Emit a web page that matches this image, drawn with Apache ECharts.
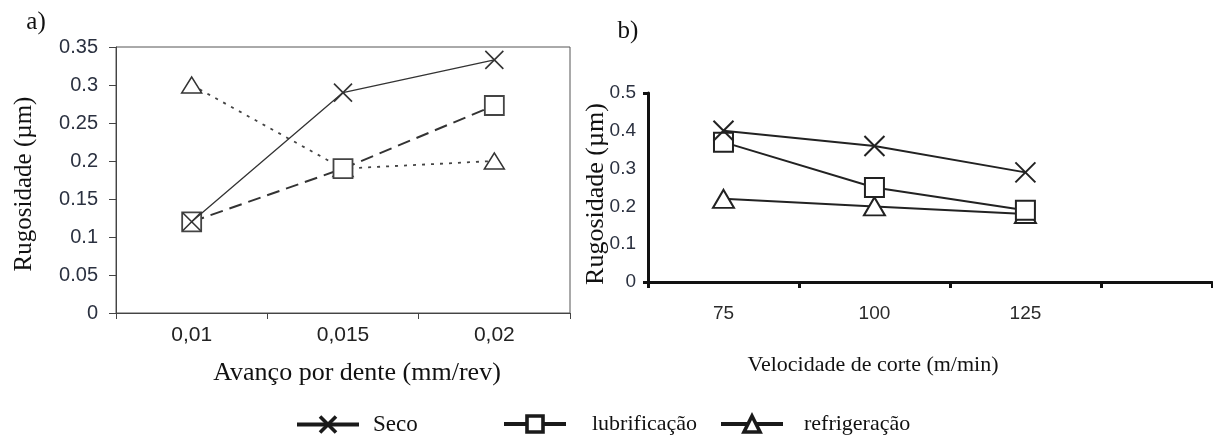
<!DOCTYPE html>
<html>
<head>
<meta charset="utf-8">
<script src="https://cdn.jsdelivr.net/npm/echarts@6/dist/echarts.min.js"></script>
<style>html,body{margin:0;padding:0;background:#fff}#c{width:1213px;height:439px}</style>
</head>
<body>
<div id="c"></div>
<script>
// ---- data (a) ----
const avancoCats = ['0,01', '0,015', '0,02'];
const secoA = [0.12, 0.29, 0.333];
const lubA = [0.12, 0.19, 0.273];
const refA = [0.30, 0.19, 0.20];
// ---- data (b) ----
const velocidades = [75, 100, 125];
const secoB = [0.40, 0.36, 0.29];
const lubB = [0.37, 0.25, 0.19];
const refB = [0.22, 0.20, 0.18];
const yTicksA = [0, 0.35, 0.05];
const yTicksB = [0, 0.5, 0.1];

const names = ['Seco', 'lubrificação', 'refrigeração'];
const X_SYM = 'path://M0,0L10,10M10,0L0,10';
const serif = 'Liberation Serif';
const sans = 'Liberation Sans';

function pairs(xs, ys) { return xs.map((x, i) => [x, ys[i]]); }

const chart = echarts.init(document.getElementById('c'), null, { renderer: 'canvas' });

const legendBase = {
  orient: 'horizontal', top: 408, itemWidth: 62, itemHeight: 20,
  lineStyle: { type: 'solid', width: 4, color: '#1a1a1a' },
  itemStyle: { borderWidth: 3.6, borderColor: '#1a1a1a', color: '#fff' },
  selectedMode: false
};

const option = {
  animation: false,
  backgroundColor: '#fff',
  grid: [
    { left: 116, right: 1213 - 570, top: 47, bottom: 439 - 313, show: true, borderColor: '#555', borderWidth: 1, backgroundColor: 'transparent' },
    { left: 648, right: 1, top: 93, bottom: 439 - 282 }
  ],
  legend: [
    Object.assign({}, legendBase, { left: 290, data: [names[0]], textStyle: { fontFamily: serif, fontSize: 23, color: '#111', padding: [0, 0, 0, 9] } }),
    Object.assign({}, legendBase, { left: 497, data: [names[1]], textStyle: { fontFamily: serif, fontSize: 22, color: '#111', padding: [0, 0, 0, 21] } }),
    Object.assign({}, legendBase, { left: 714, data: [names[2]], textStyle: { fontFamily: serif, fontSize: 22, color: '#111', padding: [0, 0, 0, 16] } })
  ],
  xAxis: [
    {
      gridIndex: 0, type: 'category', data: avancoCats, boundaryGap: true,
      axisLine: { lineStyle: { color: '#444', width: 1 } },
      axisTick: { show: true, length: 6, lineStyle: { color: '#444' } },
      axisLabel: { fontFamily: sans, fontSize: 21, color: '#222', margin: 12 },
      splitLine: { show: false }
    },
    {
      gridIndex: 1, type: 'value', min: 62.5, max: 155.9,
      axisLine: { lineStyle: { color: '#111', width: 3 } },
      axisTick: { show: true, length: 6, lineStyle: { color: '#111', width: 3 }, customValues: [62.5, 87.5, 112.5, 137.5, 155.9] },
      axisLabel: { fontFamily: sans, fontSize: 19, color: '#2a2a2a', margin: 22, customValues: velocidades, formatter: v => String(v) },
      splitLine: { show: false }
    }
  ],
  yAxis: [
    {
      gridIndex: 0, type: 'value', min: yTicksA[0], max: yTicksA[1], interval: yTicksA[2],
      axisLine: { show: true, lineStyle: { color: '#444', width: 1 } },
      axisTick: { show: true, length: 7, lineStyle: { color: '#444' } },
      axisLabel: { fontFamily: sans, fontSize: 20, color: '#2b3140', margin: 18 },
      splitLine: { show: false }
    },
    {
      gridIndex: 1, type: 'value', min: yTicksB[0], max: yTicksB[1], interval: yTicksB[2],
      axisLine: { show: true, lineStyle: { color: '#111', width: 3 } },
      axisTick: { show: true, length: 5, lineStyle: { color: '#111', width: 3 }, customValues: [0, 0.5] },
      axisLabel: { fontFamily: sans, fontSize: 19, color: '#2b3140', margin: 12 },
      splitLine: { show: false }
    }
  ],
  graphic: [
    { type: 'text', x: 36, y: 22, style: { text: 'a)', font: '25px ' + serif, fill: '#111', align: 'center', verticalAlign: 'middle' } },
    { type: 'text', x: 628, y: 31, style: { text: 'b)', font: '25px ' + serif, fill: '#111', align: 'center', verticalAlign: 'middle' } },
    { type: 'text', x: 24, y: 184, rotation: Math.PI / 2, style: { text: 'Rugosidade (µm)', font: '25px ' + serif, fill: '#111', align: 'center', verticalAlign: 'middle' } },
    { type: 'text', x: 596, y: 194, rotation: Math.PI / 2, style: { text: 'Rugosidade (µm)', font: '26px ' + serif, fill: '#111', align: 'center', verticalAlign: 'middle' } },
    { type: 'text', x: 357, y: 373, style: { text: 'Avanço por dente (mm/rev)', font: '26px ' + serif, fill: '#111', align: 'center', verticalAlign: 'middle' } },
    { type: 'text', x: 873, y: 365, style: { text: 'Velocidade de corte (m/min)', font: '22px ' + serif, fill: '#111', align: 'center', verticalAlign: 'middle' } }
  ],
  series: [
    // chart (a)
    {
      name: names[2], type: 'line', xAxisIndex: 0, yAxisIndex: 0, data: refA, z: 2,
      symbol: 'triangle', symbolSize: [20, 16],
      lineStyle: { color: '#444', width: 1.8, type: [3, 6] },
      itemStyle: { color: '#fff', borderColor: '#333', borderWidth: 1.5 }
    },
    {
      name: names[1], type: 'line', xAxisIndex: 0, yAxisIndex: 0, data: lubA, z: 3,
      symbol: 'rect', symbolSize: 19,
      lineStyle: { color: '#333', width: 2, type: [13, 7] },
      itemStyle: { color: '#fff', borderColor: '#444', borderWidth: 1.8 }
    },
    {
      name: names[0], type: 'line', xAxisIndex: 0, yAxisIndex: 0, data: secoA, z: 4,
      symbol: X_SYM, symbolSize: 18,
      lineStyle: { color: '#333', width: 1.3 },
      itemStyle: { color: '#fff', borderColor: '#333', borderWidth: 1.6 }
    },
    // chart (b)
    {
      name: names[2], type: 'line', xAxisIndex: 1, yAxisIndex: 1, data: pairs(velocidades, refB), z: 2,
      symbol: 'triangle', symbolSize: [21, 18],
      lineStyle: { color: '#222', width: 2 },
      itemStyle: { color: '#fff', borderColor: '#222', borderWidth: 2 }
    },
    {
      name: names[1], type: 'line', xAxisIndex: 1, yAxisIndex: 1, data: pairs(velocidades, lubB), z: 3,
      symbol: 'rect', symbolSize: 19,
      lineStyle: { color: '#222', width: 2 },
      itemStyle: { color: '#fff', borderColor: '#222', borderWidth: 2 }
    },
    {
      name: names[0], type: 'line', xAxisIndex: 1, yAxisIndex: 1, data: pairs(velocidades, secoB), z: 4,
      symbol: X_SYM, symbolSize: 20,
      lineStyle: { color: '#222', width: 2 },
      itemStyle: { color: '#fff', borderColor: '#222', borderWidth: 2 }
    }
  ]
};
chart.setOption(option);
</script>
</body>
</html>
